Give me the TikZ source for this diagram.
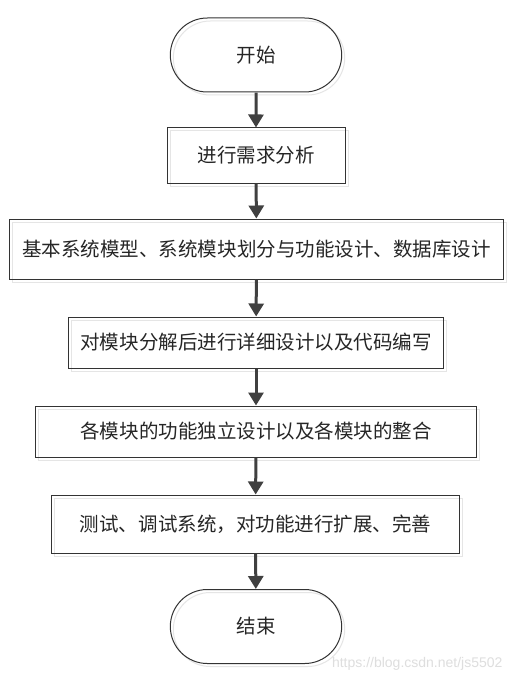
\documentclass[tikz,border=0pt]{standalone}
\usepackage{fontspec}
\setmainfont{Noto Sans CJK SC}
\newfontfamily\urlfont{Liberation Sans}
\usepackage{tikz}
\usetikzlibrary{positioning,arrows.meta,shapes.misc,shadows}
\definecolor{framegray}{HTML}{333333}
\definecolor{arrowgray}{HTML}{404040}
\tikzset{
  box base/.style={draw=framegray, line width=1bp, font=\fontsize{19.5bp}{22bp}\selectfont, text=black!85,
    copy shadow={draw=black!10, fill=none, shadow xshift=3bp, shadow yshift=-3bp}},
  terminal/.style={box base, rounded rectangle, minimum width=178bp, minimum height=74bp},
  process/.style 2 args={box base, rectangle, minimum width=#1bp, minimum height=#2bp},
  flow/.style={arrowgray, line width=3bp, -{Triangle[width=15bp,length=13bp]}}
}
\begin{document}
\begin{tikzpicture}[x=1bp, y=-1bp]
            \useasboundingbox [fill=white] (0,0) rectangle (515,682);

            \draw node (start) [terminal] at (256,55) {开始};
            \draw node (P1) [process={178}{55}] at (256,155.5) {进行需求分析};
            \draw node (P2) [process={493}{60}] at (256.5,249) {基本系统模型、系统模块划分与功能设计、数据库设计};
            \draw node (P3) [process={374}{51}] at (256,342.5) {对模块分解后进行详细设计以及代码编写};
            \draw node (P4) [process={440}{51}] at (256,431.5) {各模块的功能独立设计以及各模块的整合};
            \draw node (P5) [process={407}{58}] at (255.5,524) {测试、调试系统，对功能进行扩展、完善};
            \draw node (stop) [terminal] at (256,626.5) {结束};

            \foreach \a/\b in {start/P1, P1/P2, P2/P3, P3/P4, P4/P5, P5/stop}
                \draw [flow] (\a) -- (\b);

            \draw node (mark) [anchor=east, text=black!13, font=\urlfont\fontsize{14bp}{16bp}\selectfont] at (506,664) {https://blog.csdn.net/js5502};

        \end{tikzpicture}
\end{document}
